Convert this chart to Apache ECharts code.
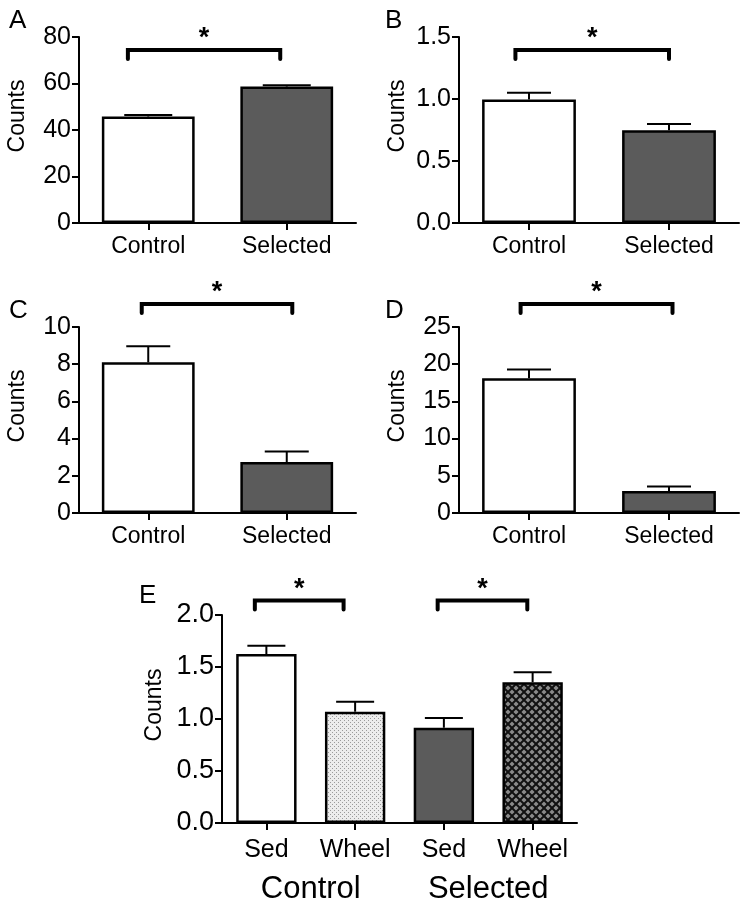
<!DOCTYPE html>
<html><head><meta charset="utf-8">
<script src="https://cdn.jsdelivr.net/npm/echarts@6/dist/echarts.min.js"></script>
<style>html,body{margin:0;padding:0;background:#fff}#c{width:750px;height:909px}</style>
</head><body><div id="c"></div>
<script>
// ---------- data ----------
const groups = ['Control', 'Selected'];
const valuesA = [45.8, 58.7];  const errorsA = [0.6, 0.6];
const valuesB = [0.995, 0.748]; const errorsB = [0.055, 0.05];
const valuesC = [8.1, 2.74];   const errorsC = [0.86, 0.57];
const valuesD = [18.1, 2.97];  const errorsD = [1.2, 0.6];
const treatE = ['Sed', 'Wheel', 'Sed', 'Wheel'];
const valuesE = [1.625, 1.07, 0.916, 1.353];
const errorsE = [0.08, 0.096, 0.094, 0.096];
const ticksA = [0, 80, 20];
const ticksB = [0, 1.5, 0.5];
const ticksC = [0, 10, 2];
const ticksD = [0, 25, 5];
const ticksE = [0, 2.0, 0.5];
// significance brackets: [fromCategory, toCategory, level (data units)]
const sigA = [[0, 1, 74.4]];
const sigB = [[0, 1, 1.395]];
const sigC = [[0, 1, 11.24]];
const sigD = [[0, 1, 28.1]];
const sigE = [[0, 1, 2.14], [2, 3, 2.14]];

// ---------- styles ----------
const FONT = '"Liberation Sans", Arial, Helvetica, sans-serif';
const DARK = '#5b5b5b';
function stipple() {
  const c = document.createElement('canvas'); c.width = 4; c.height = 4;
  const g = c.getContext('2d');
  g.fillStyle = '#ececec'; g.fillRect(0, 0, 4, 4);
  g.fillStyle = '#9a9a9a';
  g.fillRect(0, 0, 1, 1); g.fillRect(2, 2, 1, 1);
  return { image: c, repeat: 'repeat' };
}
function hatch() {
  const s = 8;
  const c = document.createElement('canvas'); c.width = s; c.height = s;
  const g = c.getContext('2d');
  g.fillStyle = '#8a8a8a'; g.fillRect(0, 0, s, s);
  g.strokeStyle = '#111'; g.lineWidth = 2;
  g.beginPath();
  g.moveTo(-1, -1); g.lineTo(s + 1, s + 1);
  g.moveTo(-1, s + 1); g.lineTo(s + 1, -1);
  g.stroke();
  return { image: c, repeat: 'repeat' };
}

const grids = [
  { left: 79, top: 37, width: 277, height: 186 },
  { left: 459, top: 37, width: 280, height: 186 },
  { left: 79, top: 327, width: 277, height: 186 },
  { left: 459, top: 327, width: 280, height: 186 },
  { left: 222, top: 615, width: 355, height: 208 }
];
const bracketOffsets = [
  [[-0.147, -0.047]],
  [[-0.097, 0.0]],
  [[-0.047, 0.04]],
  [[-0.06, 0.025]],
  [[-0.13, -0.13], [-0.07, -0.06]]
];

function xAxisCfg(gi, data, fs, margin) {
  return {
    type: 'category', gridIndex: gi, data: data,
    axisLine: { show: true, lineStyle: { color: '#000', width: 2 } },
    axisTick: { show: true, alignWithLabel: true, length: 7, lineStyle: { color: '#000', width: 2 } },
    axisLabel: { color: '#000', fontSize: fs, fontFamily: FONT, margin: margin, interval: 0 },
    splitLine: { show: false }
  };
}
function yAxisCfg(gi, t, fs, dec, gap) {
  return {
    type: 'value', gridIndex: gi, min: t[0], max: t[1], interval: t[2],
    name: 'Counts', nameLocation: 'middle', nameGap: gap,
    nameTextStyle: { color: '#000', fontSize: 23, fontFamily: FONT, padding: [0, 0, 0, 28] },
    axisLine: { show: true, lineStyle: { color: '#000', width: 2 } },
    axisTick: { show: true, length: 7, lineStyle: { color: '#000', width: 2 } },
    axisLabel: { color: '#000', fontSize: fs, fontFamily: FONT, margin: 8,
      formatter: v => v.toFixed(dec) },
    splitLine: { show: false }
  };
}

function barSeries(i, vals, colors) {
  return {
    type: 'bar', xAxisIndex: i, yAxisIndex: i, barWidth: i === 4 ? '68%' : '67%',
    data: vals.map((v, k) => ({ value: v, itemStyle: { color: colors[k] } })),
    itemStyle: { borderColor: '#000', borderWidth: 2.5 },
    silent: true, z: 2
  };
}
function errSeries(i, vals, errs, half) {
  return {
    type: 'custom', xAxisIndex: i, yAxisIndex: i, clip: false, silent: true, z: 3,
    data: vals.map((v, k) => [k, v, errs[k]]),
    renderItem: (params, api) => {
      const x = api.value(0), v = api.value(1), e = api.value(2);
      const p0 = api.coord([x, v]), p1 = api.coord([x, v + e]);
      return { type: 'group', children: [
        { type: 'line', shape: { x1: p0[0], y1: p0[1], x2: p1[0], y2: p1[1] }, style: { stroke: '#000', lineWidth: 2 } },
        { type: 'line', shape: { x1: p1[0] - half, y1: p1[1], x2: p1[0] + half, y2: p1[1] }, style: { stroke: '#000', lineWidth: 2 } }
      ] };
    }
  };
}
function sigSeries(i, sig) {
  return {
    type: 'custom', xAxisIndex: i, yAxisIndex: i, clip: false, silent: true, z: 4,
    data: sig.map(s => s.slice()),
    renderItem: (params, api) => {
      const a = api.value(0), b = api.value(1), lv = api.value(2);
      const off = bracketOffsets[i][params.dataIndex];
      const cw = api.size([1, 0])[0];
      const p0 = api.coord([a, lv]), p1 = api.coord([b, lv]);
      const xl = p0[0] + off[0] * cw, xr = p1[0] + off[1] * cw, y = p0[1];
      return { type: 'group', children: [
        { type: 'polyline', shape: { points: [[xl, y + 9], [xl, y], [xr, y], [xr, y + 9]] },
          style: { stroke: '#000', lineWidth: 4, fill: null, lineJoin: 'miter', lineCap: 'round' } },
        { type: 'text', style: { x: (xl + xr) / 2, y: y - 11, text: '*', fill: '#000',
          font: 'bold 27px ' + FONT, align: 'center', verticalAlign: 'middle' } }
      ] };
    }
  };
}

const xAxes = [
  xAxisCfg(0, groups, 23, 12), xAxisCfg(1, groups, 23, 12),
  xAxisCfg(2, groups, 23, 12), xAxisCfg(3, groups, 23, 12),
  xAxisCfg(4, treatE, 25, 15),
  { type: 'category', gridIndex: 4, data: groups, position: 'bottom',
    axisLine: { show: false }, axisTick: { show: false },
    axisLabel: { color: '#000', fontSize: 31, fontFamily: FONT, margin: 51, interval: 0 } }
];
const yAxes = [
  yAxisCfg(0, ticksA, 25, 0, 50), yAxisCfg(1, ticksB, 25, 1, 50),
  yAxisCfg(2, ticksC, 25, 0, 50), yAxisCfg(3, ticksD, 25, 0, 50),
  yAxisCfg(4, ticksE, 27, 1, 56)
];

const series = [
  barSeries(0, valuesA, ['#fff', DARK]), errSeries(0, valuesA, errorsA, 24), sigSeries(0, sigA),
  barSeries(1, valuesB, ['#fff', DARK]), errSeries(1, valuesB, errorsB, 22), sigSeries(1, sigB),
  barSeries(2, valuesC, ['#fff', DARK]), errSeries(2, valuesC, errorsC, 22), sigSeries(2, sigC),
  barSeries(3, valuesD, ['#fff', DARK]), errSeries(3, valuesD, errorsD, 22), sigSeries(3, sigD),
  barSeries(4, valuesE, ['#fff', stipple(), DARK, hatch()]), errSeries(4, valuesE, errorsE, 19), sigSeries(4, sigE)
];

const letterStyle = { color: '#000', fontSize: 26, fontWeight: 'normal', fontFamily: FONT };
const chart = echarts.init(document.getElementById('c'), null, { renderer: 'canvas' });
chart.setOption({
  animation: false,
  backgroundColor: '#fff',
  title: [
    { text: 'A', left: 4, top: 3, textStyle: letterStyle },
    { text: 'B', left: 380, top: 3, textStyle: letterStyle },
    { text: 'C', left: 4, top: 293, textStyle: letterStyle },
    { text: 'D', left: 380, top: 293, textStyle: letterStyle },
    { text: 'E', left: 134, top: 578, textStyle: letterStyle }
  ],
  grid: grids,
  xAxis: xAxes,
  yAxis: yAxes,
  series: series
});
</script></body></html>
